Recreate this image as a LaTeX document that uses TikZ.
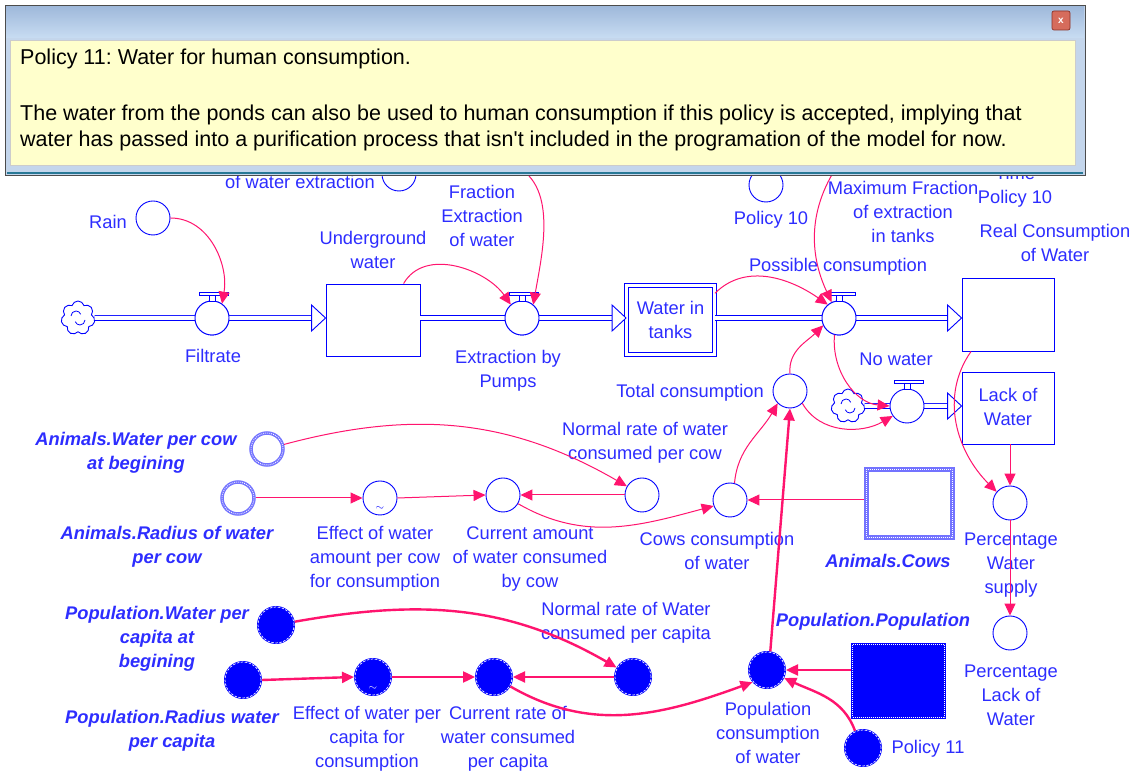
\documentclass[tikz,border=0pt]{standalone}
\usepackage{fontspec}
\setmainfont{Liberation Sans}
\usetikzlibrary{arrows.meta,shapes.symbols,calc}
\definecolor{lnk}{RGB}{255,20,110}
\definecolor{txt}{RGB}{45,45,255}
\definecolor{stk}{RGB}{0,0,255}
\definecolor{tx}{RGB}{115,115,255}
\definecolor{paper}{RGB}{255,255,204}
\definecolor{frm}{RGB}{196,214,236}
\definecolor{ttop}{RGB}{158,184,218}
\definecolor{tbot}{RGB}{200,220,242}
\definecolor{edge}{RGB}{40,120,150}
\definecolor{btn}{RGB}{214,108,92}
\definecolor{btnedge}{RGB}{140,50,40}
\frenchspacing

% valve handle sitting on top of a flow valve
\newcommand\valvehandle[1]{%
  \draw[stk,line width=0.9pt,fill=white] ($(#1)+(-3,16.5)$) rectangle ($(#1)+(3,23)$);
  \draw[stk,line width=0.9pt,fill=white] ($(#1)+(-13,23)$) rectangle ($(#1)+(16,26)$);}
% hollow arrow head where a pipe enters a stock
\newcommand\pipetip[1]{%
  \draw[stk,line width=0.9pt,fill=white] (#1) -- ++(-14,13) -- ++(0,-26) -- cycle;}
% swirl inside a cloud source
\newcommand\swirl[1]{%
  \draw[stk,line width=0.8pt] ($(#1)+(-7,2)$) arc[start angle=180,end angle=20,radius=5];
  \draw[stk,line width=0.8pt] ($(#1)+(7,-2)$) arc[start angle=0,end angle=-160,radius=5];}

\begin{document}
\begin{tikzpicture}[x=1pt,y=1pt,
  var/.style={circle,draw=stk,line width=0.9pt,fill=white,minimum size=34pt,inner sep=0pt},
  texvar/.style={circle,draw=tx,line width=3.5pt,fill=white,minimum size=32pt,inner sep=0pt,
     postaction={draw=white,line width=0.9pt,dash pattern=on 0.8pt off 1.2pt}},
  solidvar/.style={circle,fill=stk,draw=stk,line width=2pt,minimum size=36pt,inner sep=0pt,
     postaction={draw=white,line width=0.7pt,dash pattern=on 2.5pt off 1.5pt}},
  stock/.style={rectangle,draw=stk,line width=0.9pt,fill=white,inner sep=0pt},
  lbl/.style={text=txt,font=\fontsize{18.3}{24}\selectfont,align=center,inner sep=0pt},
  blbl/.style={text=txt,font=\fontsize{18.3}{24}\selectfont\bfseries\itshape,align=center,inner sep=0pt},
  link/.style={draw=lnk,line width=1pt,-{Triangle[length=12pt,width=11pt]}},
  tlink/.style={draw=lnk,line width=2.4pt,-{Triangle[length=12pt,width=11pt]}},
  pipe/.style={draw=stk,double=white,double distance=4pt,line width=0.9pt},
  source/.style={cloud,cloud puffs=7,aspect=1,draw=stk,line width=0.9pt,fill=white,
     minimum width=34pt,minimum height=34pt,inner sep=0pt},
  popup/.style={text=black,font=\fontsize{21.5}{26}\selectfont,inner sep=0pt,anchor=base west}
]
\useasboundingbox (0,0) rectangle (1133,774);
\fill[white] (0,0) rectangle (1133,774);

% ---------------- water stocks and flows ----------------
\node[source] (c1) at (78,456) {};
\swirl{c1}
\node[var] (fil) at (212,456) {};
\node[stock,minimum width=94pt,minimum height=72pt] (uw) at (373,454) {};
\node[var] (ext) at (522,456) {};
\node[stock,double,double distance=2.5pt,minimum width=88pt,minimum height=69pt] (wit) at (670.5,454) {};
\node[lbl] (witt) at (670.5,454) {Water in\\tanks};
\node[var] (pc) at (839,456) {};
\node[stock,minimum width=92pt,minimum height=73pt] (rc) at (1008,459.5) {};

\coordinate (t1) at (uw.west |- fil);
\coordinate (t2) at (wit.west |- ext);
\coordinate (t3) at (rc.west |- pc);
\draw[pipe] (c1.east) -- ($(t1)+(-13,0)$);
\draw[pipe] (uw.east |- ext) -- ($(t2)+(-13,0)$);
\draw[pipe] (wit.east |- pc) -- ($(t3)+(-13,0)$);
\pipetip{t1}\pipetip{t2}\pipetip{t3}
\node[var] (fil2) at (fil) {};
\node[var] (ext2) at (ext) {};
\node[var] (pc2) at (pc) {};
\valvehandle{fil}\valvehandle{ext}\valvehandle{pc}

\node[lbl] (filt) at (213,418) {Filtrate};
\node[lbl] (uwt) at (373,524) {Underground\\water};
\node[lbl] (extt) at (508,403) {Extraction by\\Pumps};
\node[lbl] (fxt) at (482,558) {Fraction\\Extraction\\of water};
\node[lbl] (pct) at (838,507) {Possible consumption};
\node[lbl] (rct) at (1055,531) {Real Consumption\\of Water};

\node[var] (rain) at (153,556) {};
\node[lbl] (raint) at (108,552) {Rain};
\node[var] (p10) at (766,589) {};
\node[lbl] (p10t) at (771,554) {Policy 10};
\node[lbl] (mxt) at (903,562) {Maximum Fraction\\of extraction\\in tanks};
\node[lbl] (tpt) at (1015,587) {Time\\Policy 10};
\node[var] (owe) at (399,600) {};
\node[lbl] (owet) at (300,592) {of water extraction};
\coordinate (fx) at (505,612);
\coordinate (mx) at (840,612);

% lack of water branch
\node[var] (tc) at (790,383) {};
\node[lbl] (tct) at (690,381) {Total consumption};
\node[source] (c2) at (848,368) {};
\swirl{c2}
\node[stock,minimum width=92pt,minimum height=72pt] (lw) at (1008,366) {};
\node[lbl] (lwt) at (1008,367) {Lack of\\Water};
\coordinate (t4) at (lw.west |- c2);
\draw[pipe] (c2.east) -- ($(t4)+(-13,0)$);
\pipetip{t4}
\node[var] (nw) at (907,368) {};
\valvehandle{nw}
\node[lbl] (nwt) at (896,415) {No water};
\node[var] (pws) at (1010,271) {};
\node[lbl] (pwst) at (1011,209) {Percentage\\Water\\supply};
\node[var] (pl) at (1010,141) {};
\node[lbl] (plt) at (1011,79) {Percentage\\Lack of\\Water};

% ---------------- animals ----------------
\node[texvar] (awc) at (267,325) {};
\node[blbl] (awct) at (136,321) {Animals.Water per cow\\at begining};
\node[texvar] (arc) at (238,276) {};
\node[blbl] (arct) at (167,227) {Animals.Radius of water\\per cow};
\node[var] (eff1) at (380,276) {};
\node[text=stk,font=\fontsize{11}{11}\selectfont,inner sep=0pt] (tl1) at (380,266) {$\sim$};
\node[lbl] (eff1t) at (375,215) {Effect of water\\amount per cow\\for consumption};
\node[var] (cur1) at (503,279) {};
\node[lbl] (cur1t) at (530,215) {Current amount\\of water consumed\\by cow};
\node[var] (nr1) at (642,279) {};
\node[lbl] (nr1t) at (645,331) {Normal rate of water\\consumed per cow};
\node[var] (cc) at (730,274) {};
\node[lbl] (cct) at (717,223) {Cows consumption\\of water};
\node[rectangle,draw=tx,line width=5pt,fill=white,minimum width=86pt,minimum height=68pt,inner sep=0pt,
  postaction={draw=white,line width=1pt,dash pattern=on 0.8pt off 1.2pt}] (cows) at (909.5,270.5) {};
\node[blbl] (cowst) at (888,213) {Animals.Cows};

% ---------------- population ----------------
\node[solidvar] (pwc) at (276,149) {};
\node[blbl] (pwct) at (157,135) {Population.Water per\\capita at\\begining};
\node[solidvar] (prc) at (243,94) {};
\node[blbl] (prct) at (172,43) {Population.Radius water\\per capita};
\node[solidvar] (eff2) at (373,97) {};
\node[text=white,font=\fontsize{11}{11}\selectfont,inner sep=0pt] (tl2) at (373,86) {$\sim$};
\node[lbl] (eff2t) at (367,35) {Effect of water per\\capita for\\consumption};
\node[solidvar] (cur2) at (494,97) {};
\node[lbl] (cur2t) at (508,35) {Current rate of\\water consumed\\per capita};
\node[solidvar] (nr2) at (633,97) {};
\node[lbl] (nr2t) at (626,151) {Normal rate of Water\\consumed per capita};
\node[solidvar] (popc) at (767,104) {};
\node[lbl] (popct) at (768,41) {Population\\consumption\\of water};
\node[rectangle,fill=stk,draw=stk,line width=3pt,minimum width=92pt,minimum height=73pt,inner sep=0pt,
  postaction={draw=white,line width=0.8pt,dash pattern=on 0.8pt off 1.2pt}] (pop) at (898.5,93) {};
\node[blbl] (popt) at (873,152) {Population.Population};
\node[solidvar] (pol11) at (863,26) {};
\node[lbl] (pol11t) at (928,25) {Policy 11};

% ---------------- information links ----------------
\draw[link] (rain.east) to[out=0,in=80] (fil.55);
\draw[link] (uw.50) to[out=60,in=125] (ext.130);
\draw[link] (fx) to[out=-15,in=80] (ext.50);
\draw[link] (wit.31) to[out=45,in=145] (pc.130);
\draw[link] (mx) to[out=235,in=115] (pc.115);
\draw[link] (tc.north) to[out=95,in=225] (pc.205);
\draw[link] (pc.255) to[out=265,in=175] (nw.west);
\draw[link] (tc.-45) to[out=-60,in=210] (nw.215);
\draw[link] (rc.225) to[out=235,in=135] (pws.140);
\draw[link] (lw.south -| pws.north) -- (pws.north);
\draw[link] (pws.south) -- (pl.north);

\draw[link] (awc.15) to[out=15,in=150] (nr1.150);
\draw[link] (arc.east) -- (eff1.west);
\draw[link] (eff1.east) -- (cur1.west);
\draw[link] (nr1.west) -- (cur1.east);
\draw[link] (cur1.-30) to[out=-30,in=195] (cc.200);
\draw[link] (cows.west |- cc.east) -- (cc.east);
\draw[link] (cc.75) to[out=85,in=240] (tc.225);

\draw[tlink] (pwc.10) to[out=10,in=150] (nr2.150);
\draw[tlink] (prc.east) -- (eff2.west);
\draw[tlink] (eff2.east) -- (cur2.west);
\draw[tlink] (nr2.west) -- (cur2.east);
\draw[tlink] (cur2.-30) to[out=-30,in=200] (popc.220);
\draw[tlink] (pop.west |- popc.east) -- (popc.east);
\draw[tlink] (pol11.115) to[out=110,in=-25] (popc.-25);
\draw[tlink] (popc.80) -- (tc.south);

% ---------------- note window ----------------
\fill[frm] (5,599) rectangle (1085,769);
\shade[top color=ttop,bottom color=tbot] (6,736) rectangle (1084,768);
\draw[gray!60!black,line width=0.8pt] (5,599) rectangle (1085,769);
\fill[paper] (10,609) rectangle (1075,734);
\draw[gray!40,line width=0.5pt] (10,609) rectangle (1075,734);
\draw[edge,line width=1.5pt] (7,601) -- (1083,601);
\draw[btnedge,fill=btn,rounded corners=2pt,line width=0.7pt] (1052,744) rectangle (1070,763);
\node[text=white,font=\bfseries\fontsize{10}{10}\selectfont,inner sep=0pt] (close) at (1061,753.5) {x};
\node[popup] (n1) at (20,709) {Policy 11: Water for human consumption.};
\node[popup] (n2) at (20,653) {The water from the ponds can also be used to human consumption if this policy is accepted, implying that};
\node[popup] (n3) at (20,627) {water has passed into a purification process that isn\textquotesingle t included in the programation of the model for now.};
\end{tikzpicture}
\end{document}
